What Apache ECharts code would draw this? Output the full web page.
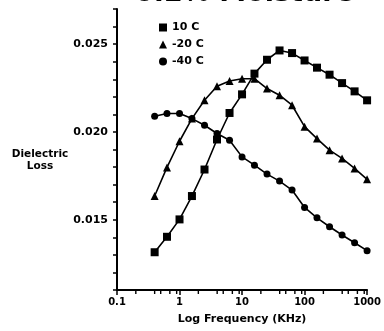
<!DOCTYPE html>
<html>
<head>
<meta charset="utf-8">
<script src="https://cdn.jsdelivr.net/npm/echarts@6/dist/echarts.min.js"></script>
<style>
html,body{margin:0;padding:0;background:#fff;}
#chart{width:384px;height:331px;}
</style>
</head>
<body>
<div id="chart"></div>
<script>
// Frequencies (kHz)
var freqs = [0.4, 0.63, 1, 1.58, 2.51, 3.98, 6.31, 10, 15.8, 25.1, 39.8, 63.1, 100, 158, 251, 398, 631, 1000];
// Dielectric loss values
var loss10C  = [0.01315, 0.01403, 0.01502, 0.01635, 0.01786, 0.01957, 0.02108, 0.02214, 0.02332, 0.02411, 0.02464, 0.02449, 0.02407, 0.02366, 0.02326, 0.02278, 0.02231, 0.02180];
var lossM20C = [0.01635, 0.01798, 0.01947, 0.02076, 0.02180, 0.02260, 0.02290, 0.02303, 0.02303, 0.02247, 0.02209, 0.02152, 0.02030, 0.01962, 0.01896, 0.01849, 0.01792, 0.01730];
var lossM40C = [0.02089, 0.02105, 0.02105, 0.02076, 0.02038, 0.01991, 0.01953, 0.01858, 0.01811, 0.01760, 0.01720, 0.01669, 0.01570, 0.01511, 0.01460, 0.01413, 0.01369, 0.01324];
var seriesNames = ['10 C', '-20 C', '-40 C'];
var xMinorTicks = [0.2, 0.4, 0.5, 0.7, 0.9, 2, 4, 5, 7, 9, 20, 40, 50, 70, 90, 200, 400, 500, 700, 900];
var yMin = 0.011, yMax = 0.027;

function pairs(ys){ return freqs.map(function(f,i){ return [f, ys[i]]; }); }

var FONT = 'DejaVu Sans';
var chart = echarts.init(document.getElementById('chart'), null, {renderer:'canvas'});
var lineStyle = {color:'#000', width:1.6};
var itemStyle = {color:'#000'};
chart.setOption({
  animation:false,
  backgroundColor:'#fff',
  textStyle:{fontFamily:FONT},
  grid:{left:117, right:14, top:9, bottom:41, containLabel:false},
  legend:{
    orient:'vertical', left:154, top:17, itemGap:6, itemWidth:8, itemHeight:8,
    textStyle:{fontFamily:FONT, fontWeight:'bold', fontSize:11, color:'#000'},
    data:[
      {name:seriesNames[0], icon:'rect'},
      {name:seriesNames[1], icon:'triangle'},
      {name:seriesNames[2], icon:'circle'}
    ]
  },
  xAxis:{
    type:'log', logBase:10, min:0.1, max:1000,
    name:'Log Frequency (KHz)', nameLocation:'middle', nameGap:24,
    nameTextStyle:{fontFamily:FONT, fontWeight:'bold', fontSize:11, color:'#000'},
    axisLine:{lineStyle:{color:'#000', width:2}},
    axisTick:{show:true, inside:false, length:5, lineStyle:{color:'#000', width:1.5}},
    axisLabel:{margin:7, color:'#000', fontFamily:FONT, fontWeight:'bold', fontSize:10,
      formatter:function(v){ return String(v); }},
    splitLine:{show:false}, minorTick:{show:false}
  },
  yAxis:{
    type:'value', min:yMin, max:yMax, interval:0.001,
    axisLine:{show:true, lineStyle:{color:'#000', width:2}},
    axisTick:{show:true, length:4, lineStyle:{color:'#000', width:1.5}},
    axisLabel:{margin:9, color:'#000', fontFamily:FONT, fontWeight:'bold', fontSize:11,
      formatter:function(v){
        var k = Math.round(v*1000);
        return (k % 5 === 0) ? v.toFixed(3) : '';
      }},
    splitLine:{show:false}
  },
  graphic:[
    {type:'text', x:40, y:148, style:{text:'Dielectric\nLoss', fontFamily:FONT, fontWeight:'bold', fontSize:10.5, fill:'#000', align:'center', lineHeight:12}},
    {type:'text', x:135, y:-20, style:{text:'0.2% Moisture', fontFamily:FONT, fontWeight:'bold', fontSize:27, fill:'#000'}}
  ],
  series:[
    {name:seriesNames[0], type:'line', data:pairs(loss10C), symbol:'rect', symbolSize:8, lineStyle:lineStyle, itemStyle:itemStyle},
    {name:seriesNames[1], type:'line', data:pairs(lossM20C), symbol:'triangle', symbolSize:8, lineStyle:lineStyle, itemStyle:itemStyle},
    {name:seriesNames[2], type:'line', data:pairs(lossM40C), symbol:'circle', symbolSize:7, lineStyle:lineStyle, itemStyle:itemStyle},
    {
      name:'minorTicks', type:'custom', clip:false, silent:true, z:10,
      data:xMinorTicks.map(function(v){ return [v, yMin]; }),
      renderItem:function(params, api){
        var p = api.coord([api.value(0), api.value(1)]);
        return {type:'line', shape:{x1:p[0], y1:p[1], x2:p[0], y2:p[1]+4}, style:{stroke:'#000', lineWidth:1.4}};
      }
    }
  ]
});
</script>
</body>
</html>
